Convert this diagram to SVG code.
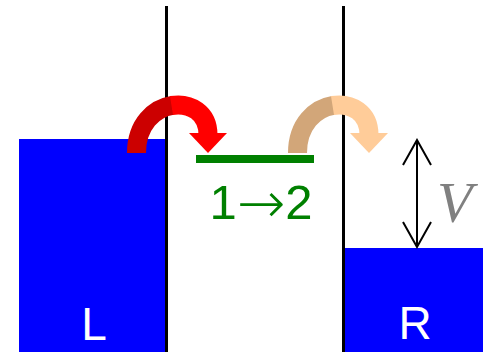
<svg xmlns="http://www.w3.org/2000/svg" width="483" height="352" viewBox="0 0 483 352">
<style>
.wall{stroke:#000;stroke-width:3;fill:none}
.water{fill:#0000ff}
.lbl{font-family:"Liberation Sans",Arial,sans-serif;fill:#fff;font-size:46px;text-anchor:middle}
.shaft{fill:none;stroke-width:19}
</style>
<defs>
<marker id="open" viewBox="0 0 30 30" refX="28" refY="15" markerWidth="30" markerHeight="30" markerUnits="userSpaceOnUse" orient="auto-start-reverse">
<path d="M3,1 L28,15 L3,29" fill="none" stroke="#000" stroke-width="2"/>
</marker>
</defs>
<g id="tankL"><rect class="water" x="19" y="139" width="147" height="213"/><text class="lbl" x="94" y="340">L</text></g>
<g id="tankR"><rect class="water" x="343" y="248" width="140" height="104"/><text class="lbl" x="415" y="339">R</text></g>
<g id="walls"><line class="wall" x1="166.5" y1="6" x2="166.5" y2="352"/><line class="wall" x1="343.5" y1="6" x2="343.5" y2="352"/></g>
<g id="membrane"><rect x="196" y="155" width="118" height="8" fill="#008000"/><text x="261" y="219" font-family="Liberation Sans,Arial,sans-serif" font-size="49" fill="#008000" text-anchor="middle">1<tspan font-family="DejaVu Sans,sans-serif" font-weight="200" font-size="58" dy="4">→</tspan><tspan dy="-4">2</tspan></text></g>
<g id="arrow1">
<path class="shaft" stroke="#cc0000" d="M136.5,153 C136.5,124 154.4,108.25 172.25,105.4"/>
<path class="shaft" stroke="#ff0000" d="M171.5,105.5 C190.1,102.5 208,112.5 208,135"/>
<polygon points="189,133 227,133 208,153" fill="#ff0000"/>
</g>
<g id="arrow2">
<path class="shaft" stroke="#d2a679" d="M297.5,153 C297.5,124 315.4,108.25 333.25,105.4"/>
<path class="shaft" stroke="#ffcc99" d="M332.5,105.5 C351.1,102.5 369,112.5 369,135"/>
<polygon points="350,133 388,133 369,153" fill="#ffcc99"/>
</g>
<g id="connectors"><line x1="417" y1="140" x2="417" y2="247" stroke="#000" stroke-width="2" marker-start="url(#open)" marker-end="url(#open)"/></g>
<g id="labelV"><text x="437" y="222" font-family="Liberation Serif,Times New Roman,serif" font-style="italic" font-size="58" fill="#808080">V</text></g>
</svg>
